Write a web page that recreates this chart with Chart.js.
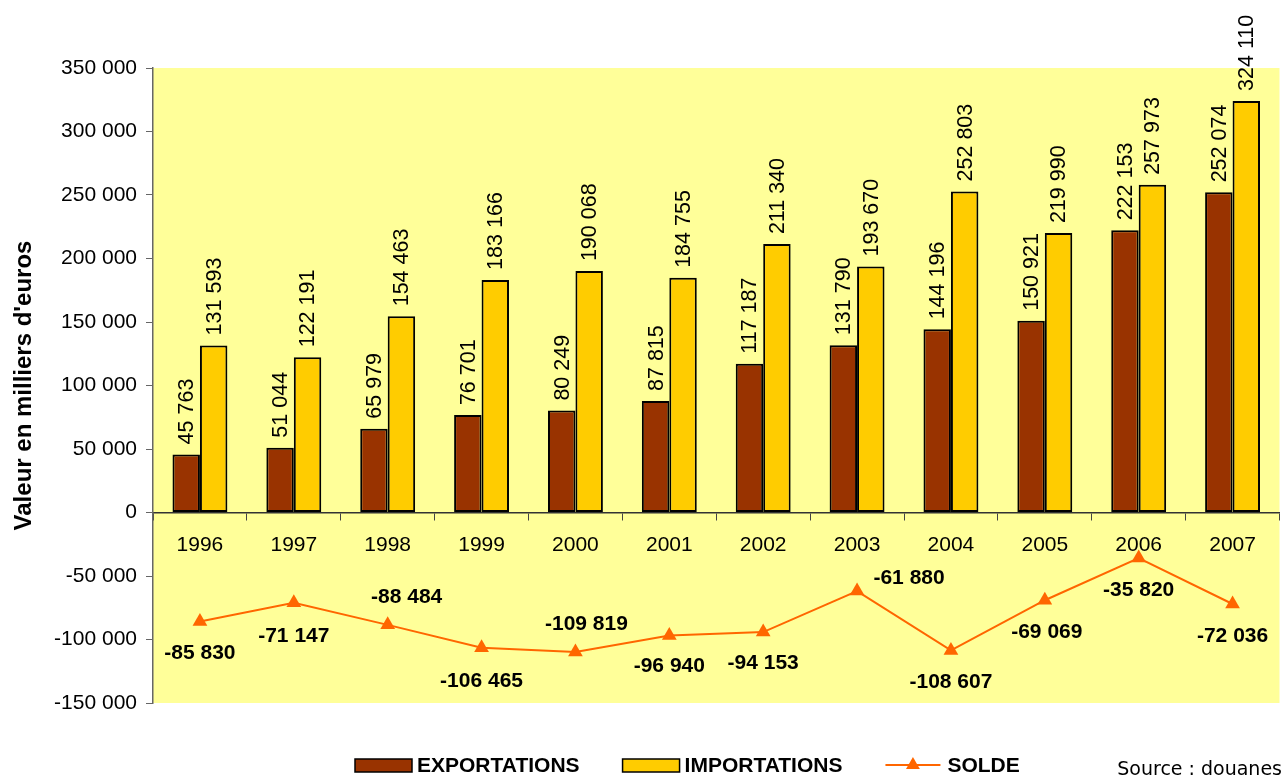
<!DOCTYPE html>
<html>
<head>
<meta charset="utf-8">
<script src="https://cdn.jsdelivr.net/npm/chart.js@4.4.1/dist/chart.umd.min.js"></script>
<style>
  html, body { margin: 0; padding: 0; background: #fff; }
  canvas { display: block; }
</style>
</head>
<body>
<canvas id="myChart" width="1288" height="777"></canvas>
<script>
const years = ['1996', '1997', '1998', '1999', '2000', '2001', '2002', '2003', '2004', '2005', '2006', '2007'];
const exportations = [45763, 51044, 65979, 76701, 80249, 87815, 117187, 131790, 144196, 150921, 222153, 252074];
const importations = [131593, 122191, 154463, 183166, 190068, 184755, 211340, 193670, 252803, 219990, 257973, 324110];
const solde = [-85830, -71147, -88484, -106465, -109819, -96940, -94153, -61880, -108607, -69069, -35820, -72036];

// where each solde label sits relative to its point (dx, dy)
const soldeLabelShift = [[0, 32], [0, 33], [19, -28], [0, 33], [11, -28], [0, 31], [0, 31], [52, -13], [0, 32], [2, 32], [0, 32], [0, 32]];

function fmt(n) {
  const s = Math.abs(Math.round(n)).toString().replace(/\B(?=(\d{3})+(?!\d))/g, ' ');
  return (n < 0 ? '-' : '') + s;
}

const plotBg = {
  id: 'plotBg',
  beforeDraw(chart) {
    const a = chart.chartArea, ctx = chart.ctx;
    ctx.save();
    ctx.fillStyle = '#FFFF99';
    ctx.fillRect(a.left, a.top, a.right - a.left, a.bottom - a.top);
    ctx.restore();
  }
};

const valueLabels = {
  id: 'valueLabels',
  afterDatasetsDraw(chart) {
    const ctx = chart.ctx;
    ctx.save();
    ctx.fillStyle = '#000';
    [0, 1].forEach(di => {
      const meta = chart.getDatasetMeta(di);
      ctx.font = '21.5px "Liberation Sans", Arial, sans-serif';
      meta.data.forEach((el, i) => {
        ctx.save();
        ctx.translate(el.x, el.y - 10);
        ctx.rotate(-Math.PI / 2);
        ctx.textAlign = 'left';
        ctx.textBaseline = 'middle';
        ctx.fillText(fmt(chart.data.datasets[di].data[i]), 0, 1);
        ctx.restore();
      });
    });
    const lm = chart.getDatasetMeta(2);
    ctx.font = 'bold 21px "Liberation Sans", Arial, sans-serif';
    ctx.textAlign = 'center';
    ctx.textBaseline = 'middle';
    lm.data.forEach((pt, i) => {
      const sh = soldeLabelShift[i];
      ctx.fillText(fmt(solde[i]), pt.x + sh[0], pt.y + sh[1]);
    });
    ctx.restore();
  }
};

const bottomLegend = {
  id: 'bottomLegend',
  afterDraw(chart) {
    const ctx = chart.ctx;
    const ds = chart.data.datasets;
    const yMid = 765;
    let x = 355;
    ctx.save();
    ctx.font = 'bold 21px "Liberation Sans", Arial, sans-serif';
    ctx.textBaseline = 'middle';
    ctx.textAlign = 'left';
    ds.forEach((d, i) => {
      if (d.type === 'line') {
        ctx.strokeStyle = d.borderColor;
        ctx.lineWidth = 2;
        ctx.beginPath();
        ctx.moveTo(x, yMid);
        ctx.lineTo(x + 55, yMid);
        ctx.stroke();
        ctx.fillStyle = d.pointBackgroundColor;
        const cx = x + 27.5, r = 8;
        ctx.beginPath();
        ctx.moveTo(cx, yMid - r);
        ctx.lineTo(cx + r * 0.866, yMid + r * 0.5);
        ctx.lineTo(cx - r * 0.866, yMid + r * 0.5);
        ctx.closePath();
        ctx.fill();
      } else {
        ctx.fillStyle = d.backgroundColor;
        ctx.fillRect(x, yMid - 6, 57, 13);
        ctx.strokeStyle = '#000';
        ctx.lineWidth = 1.5;
        ctx.strokeRect(x, yMid - 6, 57, 13);
      }
      ctx.fillStyle = '#000';
      ctx.fillText(d.label, x + 62, yMid + 1);
      x += 62 + ctx.measureText(d.label).width + 43;
    });
    ctx.font = '19px "DejaVu Sans", sans-serif';
    ctx.textAlign = 'right';
    ctx.textBaseline = 'alphabetic';
    ctx.fillText('Source : douanes', 1282, 775);
    ctx.restore();
  }
};

const ctx = document.getElementById('myChart');

new Chart(ctx, {
  data: {
    labels: years,
    datasets: [
      {
        type: 'bar',
        label: 'EXPORTATIONS',
        data: exportations,
        backgroundColor: '#993300',
        borderColor: '#000',
        borderWidth: 2,
        borderSkipped: false,
        categoryPercentage: 0.585,
        barPercentage: 1,
        order: 2
      },
      {
        type: 'bar',
        label: 'IMPORTATIONS',
        data: importations,
        backgroundColor: '#FFCC00',
        borderColor: '#000',
        borderWidth: 2,
        borderSkipped: false,
        categoryPercentage: 0.585,
        barPercentage: 1,
        order: 2
      },
      {
        type: 'line',
        label: 'SOLDE',
        data: solde,
        borderColor: '#FF6600',
        borderWidth: 2,
        pointStyle: 'triangle',
        pointRadius: 8.5,
        pointBackgroundColor: '#FF6600',
        pointBorderColor: '#FF6600',
        pointBorderWidth: 0,
        tension: 0,
        order: 1
      }
    ]
  },
  options: {
    responsive: false,
    animation: false,
    devicePixelRatio: 1,
    layout: { padding: { top: 68, right: 5, bottom: 74, left: 0 } },
    plugins: {
      legend: { display: false },
      tooltip: { enabled: false }
    },
    scales: {
      x: {
        type: 'category',
        position: { y: 0 },
        offset: true,
        grid: {
          offset: true,
          drawOnChartArea: false,
          drawTicks: true,
          tickLength: 7,
          color: '#444'
        },
        border: { color: '#333', width: 1.5 },
        ticks: {
          color: '#000',
          padding: 13,
          font: { family: '"Liberation Sans", Arial, sans-serif', size: 21 },
          maxRotation: 0
        }
      },
      y: {
        min: -150000,
        max: 350000,
        afterFit(scale) { scale.width = 153; },
        ticks: {
          stepSize: 50000,
          color: '#000',
          padding: 9,
          font: { family: '"Liberation Sans", Arial, sans-serif', size: 21 },
          callback: v => fmt(v)
        },
        grid: {
          drawOnChartArea: false,
          drawTicks: true,
          tickLength: 7,
          color: '#666'
        },
        border: { color: '#666', width: 1.5 },
        title: {
          display: true,
          text: "Valeur en milliers d'euros",
          color: '#000',
          padding: { top: 10, bottom: 0 },
          font: { family: '"Liberation Sans", Arial, sans-serif', size: 24, weight: 'bold' }
        }
      }
    }
  },
  plugins: [plotBg, valueLabels, bottomLegend]
});
</script>
</body>
</html>
